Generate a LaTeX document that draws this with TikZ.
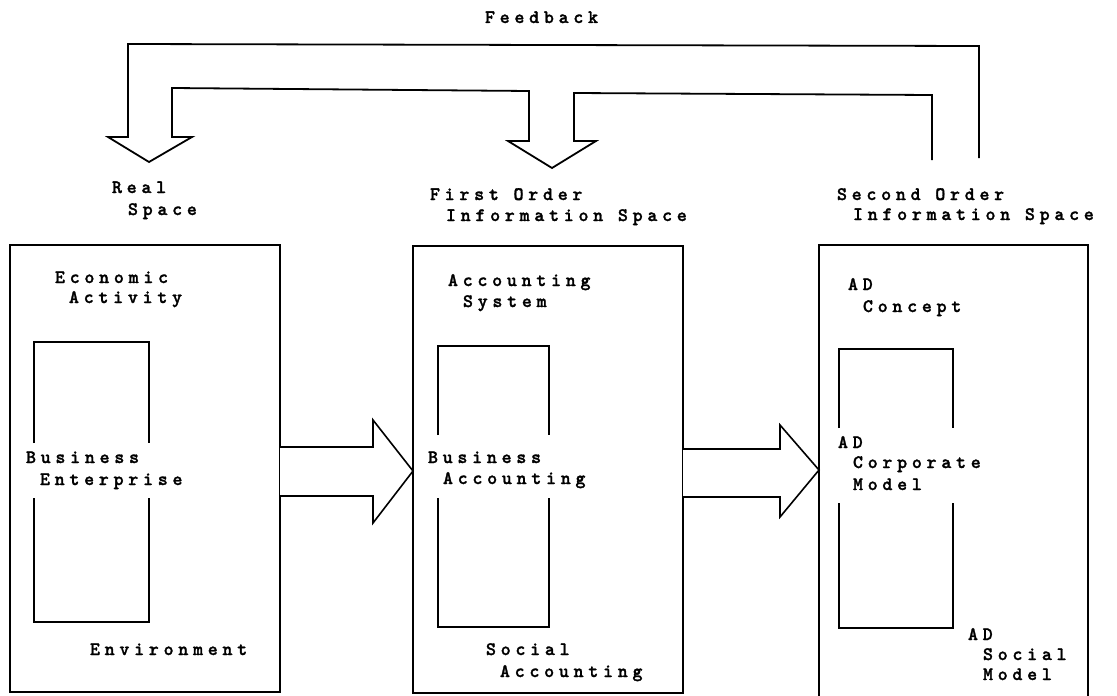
\documentclass[tikz,border=0pt]{standalone}
\usepackage{fontspec}
\newfontfamily\tw[LetterSpace=25,FakeBold=1.5]{lmmonolt10-bold.otf}
\newcommand\twfont{\tw\fontsize{19}{22}\selectfont}
\begin{document}
\begin{tikzpicture}[x=1pt,y=-1pt,
  lbl/.style={anchor=base west, inner sep=0pt, outer sep=0pt, font=\twfont},
  space/.style={draw, line width=1.8pt, inner sep=0pt, outer sep=0pt, anchor=north west},
  openbox/.style={inner sep=0pt, outer sep=0pt, anchor=north west},
  ln/.style={line width=1.8pt, line join=miter},
  blk/.style={line width=1.6pt, line join=miter, fill=white}]
\useasboundingbox (0,0) rectangle (1117,696);

% outer spaces
\node[space, minimum width=270pt, minimum height=447pt] (real) at (10,245) {};
\node[space, minimum width=270pt, minimum height=447pt] (first) at (413,246) {};
\node[openbox, minimum width=269pt, minimum height=451pt] (second) at (819,245) {};
\draw[ln] (second.south west) -- (second.north west) -- (second.north east) -- (second.south east);

% inner boxes (broken at the sides for the text)
\coordinate (b1tl) at (34,342); \coordinate (b1br) at (149,622);
\draw[ln] (b1tl |- 0,443) -- (b1tl) -- (b1br |- b1tl) -- (b1br |- 0,443);
\draw[ln] (b1tl |- 0,498) -- (b1tl |- b1br) -- (b1br) -- (b1br |- 0,498);
\coordinate (b2tl) at (438,346); \coordinate (b2br) at (549,627);
\draw[ln] (b2tl |- 0,435) -- (b2tl) -- (b2br |- b2tl) -- (b2br |- 0,435);
\draw[ln] (b2tl |- 0,498) -- (b2tl |- b2br) -- (b2br) -- (b2br |- 0,498);
\coordinate (b3tl) at (839,349); \coordinate (b3br) at (953,628);
\draw[ln] (b3tl |- 0,428) -- (b3tl) -- (b3br |- b3tl) -- (b3br |- 0,428);
\draw[ln] (b3tl |- 0,503) -- (b3tl |- b3br) -- (b3br) -- (b3br |- 0,503);

% block arrows between spaces
\draw[blk] (real.east |- 0,447) -- (373,447) -- (373,420) -- (first.west |- 0,471)
  -- (373,523) -- (373,496) -- (real.east |- 0,496);
\draw[blk] (first.east |- 0,449) -- (780,449) -- (780,425) -- (second.west |- 0,470)
  -- (780,517) -- (780,497) -- (first.east |- 0,497);

% feedback arrows
\coordinate (fbA) at (979,158);
\coordinate (fbB) at (932,160);
\draw[ln] (fbA) -- (979,46) -- (128,44) -- (128,137) -- (108,137) -- (149,162) -- (192,137)
  -- (172,137) -- (172,88) -- (529,91) -- (529,141) -- (508,141) -- (552,168) -- (596,141)
  -- (574,141) -- (574,93) -- (932,95) -- (fbB);

% labels
\node[lbl] (fb) at (485,23) {Feedback};
\node[lbl] (rs1) at (112,193) {Real};
\node[lbl] (rs2) at (128,215) {Space};
\node[lbl] (fo1) at (430,200) {First Order};
\node[lbl] (fo2) at (446,221) {Information Space};
\node[lbl] (so1) at (837,200) {Second Order};
\node[lbl] (so2) at (853,220) {Information Space};

\node[lbl] (ea1) at (55,283) {Economic};
\node[lbl] (ea2) at (69,303) {Activity};
\node[lbl] (be1) at (26,463) {Business};
\node[lbl] (be2) at (40,485) {Enterprise};
\node[lbl] (env) at (90,655) {Environment};

\node[lbl] (as1) at (448,286) {Accounting};
\node[lbl] (as2) at (463,307) {System};
\node[lbl] (ba1) at (428,463) {Business};
\node[lbl] (ba2) at (443,484) {Accounting};
\node[lbl] (sa1) at (486,655) {Social};
\node[lbl] (sa2) at (500,677) {Accounting};

\node[lbl] (ac1) at (848,290) {AD};
\node[lbl] (ac2) at (863,312) {Concept};
\node[lbl] (am1) at (838,448) {AD};
\node[lbl] (am2) at (853,468) {Corporate};
\node[lbl] (am3) at (853,490) {Model};
\node[lbl] (as1b) at (968,640) {AD};
\node[lbl] (as2b) at (983,660) {Social};
\node[lbl] (as3b) at (983,680) {Model};
\end{tikzpicture}
\end{document}
